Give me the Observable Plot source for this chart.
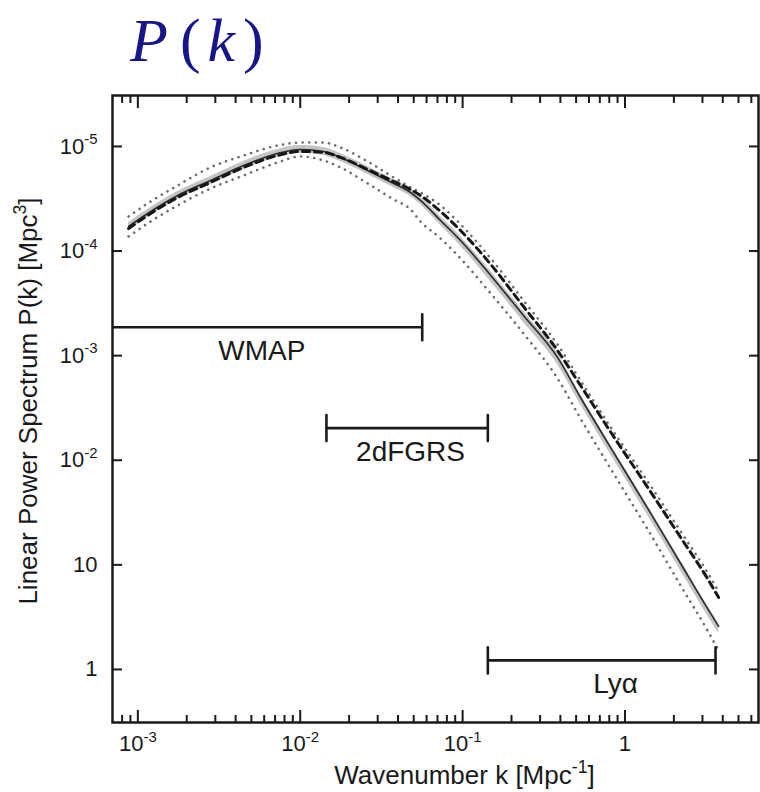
<!DOCTYPE html>
<html><head><meta charset="utf-8">
<script src="https://cdn.jsdelivr.net/npm/d3@7"></script>
<script src="https://cdn.jsdelivr.net/npm/@observablehq/plot@0.6"></script>
<style>
html,body{margin:0;padding:0;background:#fff;}
#title{position:relative;height:88px;width:760px;overflow:hidden;}
#title .t{position:absolute;left:130px;top:9px;font-family:"Liberation Serif","DejaVu Serif",serif;font-size:62px;line-height:1;color:#16168a;white-space:nowrap;}
#title .p{margin-left:12px;}
#title .k{margin-left:7px;}
#title .c{margin-left:8px;}
</style></head><body>
<div id="title"><span class="t"><i>P</i><span class="p">(</span><i class="k">k</i><span class="c">)</span></span></div>
<div id="chart"></div>
<script>
// ---- data ----
const kValues = [8.77e-4, 1.20e-3, 1.76e-3, 2.80e-3, 4.48e-3, 7.25e-3, 1.00e-2, 1.39e-2, 1.77e-2, 2.60e-2, 3.76e-2, 4.78e-2, 5.50e-2, 7.31e-2, 9.71e-2, 0.149, 0.237, 0.384, 0.532, 0.850, 1.38, 2.20, 3.22, 3.77];
const solidP  = [1.72e4, 2.39e4, 3.40e4, 4.73e4, 6.58e4, 8.57e4, 9.36e4, 8.96e4, 7.85e4, 5.90e4, 4.43e4, 3.63e4, 3.05e4, 1.96e4, 1.26e4, 5.85e3, 2.42e3, 962, 398, 119, 34.6, 10.3, 3.83, 2.58];
const dashedP = [1.64e4, 2.29e4, 3.25e4, 4.53e4, 6.30e4, 8.20e4, 8.96e4, 8.77e4, 7.85e4, 6.03e4, 4.63e4, 3.88e4, 3.40e4, 2.39e4, 1.57e4, 7.45e3, 2.95e3, 1.12e3, 519, 169, 55.0, 18.3, 7.41, 4.88];
const upperP  = [2.14e4, 2.98e4, 4.24e4, 6.30e4, 8.20e4, 1.02e5, 1.09e5, 1.09e5, 9.78e4, 7.19e4, 5.06e4, 4.06e4, 3.63e4, 2.73e4, 1.80e4, 8.50e3, 3.37e3, 1.28e3, 579, 188, 62.7, 20.9, 8.46, 5.57];
const lowerP  = [1.38e4, 1.92e4, 2.73e4, 3.96e4, 5.28e4, 7.03e4, 8.02e4, 7.35e4, 6.30e4, 4.43e4, 3.11e4, 2.50e4, 1.92e4, 1.32e4, 8.50e3, 3.93e3, 1.63e3, 606, 251, 74.8, 21.8, 6.35, 2.36, 1.52];
const bandHiP = [1.88e4, 2.61e4, 3.71e4, 5.17e4, 7.19e4, 9.36e4, 1.02e5, 9.78e4, 8.57e4, 6.44e4, 4.84e4, 3.96e4, 3.33e4, 2.14e4, 1.38e4, 6.39e3, 2.64e3, 1.05e3, 425, 127, 37.0, 11.0, 4.09, 2.76];
const bandLoP = [1.58e4, 2.19e4, 3.11e4, 4.33e4, 6.03e4, 7.85e4, 8.57e4, 8.21e4, 7.19e4, 5.40e4, 4.06e4, 3.33e4, 2.79e4, 1.76e4, 1.12e4, 5.10e3, 2.09e3, 824, 341, 102, 29.6, 8.8, 3.28, 2.21];

const surveyNames = ["WMAP", "2dFGRS", "Lyα"];
const surveyKmin  = [6.0e-4, 0.0145, 0.143];
const surveyKmax  = [0.0564, 0.143, 3.61];
const surveyP     = [1870, 203, 1.22];
const surveyLabelK = [5.8e-3, 0.0478, 0.874];
const capK = [0.0564, 0.0145, 0.143, 0.143, 3.61];
const capP = [1870, 203, 203, 1.22, 1.22];

const xDomain = [6.98e-4, 6.64];
const yDomain = [0.311, 3.07e5];
const xMajor = [1e-3, 1e-2, 1e-1, 1];
const xTickLabels = ["10^{-3}", "10^{-2}", "10^{-1}", "1"];
const xMinor = [8e-4, 9e-4, 2e-3, 3e-3, 4e-3, 5e-3, 6e-3, 7e-3, 8e-3, 9e-3, 2e-2, 3e-2, 4e-2, 5e-2, 6e-2, 7e-2, 8e-2, 9e-2, 0.2, 0.3, 0.4, 0.5, 0.6, 0.7, 0.8, 0.9, 2, 3, 4, 5, 6];
const yMajor = [1, 10, 100, 1000, 10000, 100000];
const yTickLabels = ["1", "10", "10^{-2}", "10^{-3}", "10^{-4}", "10^{-5}"];
const xLabel = "Wavenumber k [Mpc^{-1}]";
const yLabel = "Linear Power Spectrum P(k) [Mpc^{3}]";

// ---- tables ----
const rows = kValues.map((k, i) => ({k, solid: solidP[i], dashed: dashedP[i], up: upperP[i], lo: lowerP[i], bhi: bandHiP[i], blo: bandLoP[i]}));
const bars = surveyNames.map((name, i) => ({name, kmin: surveyKmin[i], kmax: surveyKmax[i], P: surveyP[i], lk: surveyLabelK[i]}));
const caps = capK.map((k, i) => ({k, P: capP[i]}));
const xFmt = new Map(xMajor.map((v, i) => [v, xTickLabels[i]]));
const yFmt = new Map(yMajor.map((v, i) => [v, yTickLabels[i]]));

const ink = "#1a1a1a";
const capShape = {draw(ctx, l) { ctx.moveTo(0, 0); ctx.lineTo(0, -l); }};

const svg = Plot.plot({
  width: 760, height: 704,
  marginTop: 7, marginBottom: 70, marginLeft: 112, marginRight: 2,
  style: {fontFamily: '"Liberation Sans", Arial, Helvetica, sans-serif', color: ink, background: "#fff"},
  x: {type: "log", domain: xDomain},
  y: {type: "log", domain: yDomain},
  marks: [
    Plot.areaY(rows, {x: "k", y1: "blo", y2: "bhi", fill: "#c4c4c4", curve: "monotone-x"}),
    Plot.line(rows, {x: "k", y: "up", stroke: "#6e6e6e", strokeWidth: 2.6, strokeDasharray: "0.1,6.5", strokeLinecap: "round", curve: "monotone-x"}),
    Plot.line(rows, {x: "k", y: "lo", stroke: "#6e6e6e", strokeWidth: 2.6, strokeDasharray: "0.1,6.5", strokeLinecap: "round", curve: "monotone-x"}),
    Plot.line(rows, {x: "k", y: "solid", stroke: "#2a2a2a", strokeWidth: 1.6, curve: "monotone-x"}),
    Plot.line(rows, {x: "k", y: "dashed", stroke: "#161616", strokeWidth: 3, strokeDasharray: "7,5", curve: "monotone-x"}),
    Plot.ruleY(bars, {y: "P", x1: "kmin", x2: "kmax", stroke: ink, strokeWidth: 2.6, clip: true}),
    Plot.vector(caps, {x: "k", y: "P", length: 26, anchor: "middle", shape: capShape, stroke: ink, strokeWidth: 2.6}),
    Plot.text(bars, {x: "lk", y: "P", text: "name", dy: 24, fontSize: 28, lineAnchor: "middle", fill: ink}),
    Plot.frame({stroke: ink, strokeWidth: 2.5}),
    // bottom / top ticks (inward)
    Plot.axisX(xMajor, {anchor: "bottom", tickSize: -12, strokeWidth: 2, fill: "none", label: null}),
    Plot.axisX(xMajor, {anchor: "top", tickSize: -12, strokeWidth: 2, fill: "none", label: null}),
    Plot.axisX(xMinor, {anchor: "bottom", tickSize: -7, strokeWidth: 2, fill: "none", label: null}),
    Plot.axisX(xMinor, {anchor: "top", tickSize: -7, strokeWidth: 2, fill: "none", label: null}),
    Plot.axisX(xMajor, {anchor: "bottom", tickSize: 0, tickPadding: 13, tickFormat: d => xFmt.get(d), fontSize: 22, label: null}),
    // left / right ticks (inward)
    Plot.axisY(yMajor, {anchor: "left", tickSize: -10, strokeWidth: 2, fill: "none", label: null}),
    Plot.axisY(yMajor, {anchor: "right", tickSize: -10, strokeWidth: 2, fill: "none", label: null}),
    Plot.axisY(yMajor, {anchor: "left", tickSize: 0, tickPadding: 15, tickFormat: d => yFmt.get(d), fontSize: 22, label: null}),
    // axis titles
    Plot.text([xLabel], {frameAnchor: "bottom", textAnchor: "middle", dx: 29, dy: 53, fontSize: 26, lineAnchor: "middle", fill: ink}),
    Plot.text([yLabel], {frameAnchor: "left", textAnchor: "middle", rotate: -90, dx: -84, dy: -8, fontSize: 26, lineAnchor: "middle", fill: ink})
  ]
});

// render "^{...}" as superscript tspans
svg.querySelectorAll("text").forEach(el => {
  const s = el.textContent;
  if (!s.includes("^{")) return;
  const parts = s.split(/\^\{([^}]*)\}/);
  el.textContent = "";
  const NS = "http://www.w3.org/2000/svg";
  let raised = false;
  parts.forEach((p, i) => {
    if (!p) return;
    const t = document.createElementNS(NS, "tspan");
    t.textContent = p;
    if (i % 2 === 1) { t.setAttribute("font-size", "68%"); t.setAttribute("dy", "-0.62em"); raised = true; }
    else if (raised) { t.setAttribute("dy", "0.42em"); raised = false; }
    el.appendChild(t);
  });
});
document.getElementById("chart").appendChild(svg);
</script>
</body></html>
